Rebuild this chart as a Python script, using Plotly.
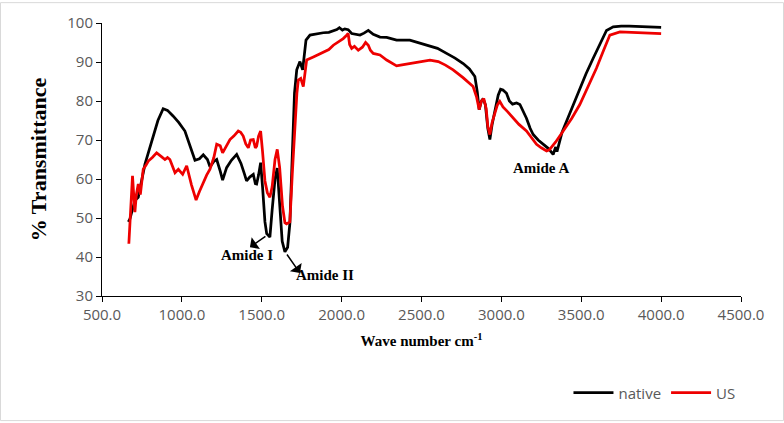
import plotly.graph_objects as go

# FTIR spectra
wn_native = [
    665, 675, 706, 727, 769, 811, 850, 883, 910, 946, 980, 1019, 1050, 1082, 1110,
    1134, 1160, 1176, 1200, 1218, 1240, 1255, 1280, 1310, 1343, 1370, 1390, 1405,
    1425, 1447, 1460, 1468, 1480, 1493, 1505, 1520, 1531, 1551, 1565, 1583, 1597,
    1610, 1628, 1645, 1662, 1676, 1690, 1705, 1719, 1739, 1756, 1777, 1802, 1850,
    1885, 1920, 1948, 1970, 1986, 2005, 2020, 2041, 2063, 2090, 2115, 2140, 2167,
    2198, 2240, 2282, 2344, 2427, 2511, 2600, 2657, 2710, 2761, 2800, 2834, 2849,
    2861, 2875, 2886, 2900, 2915, 2928, 2942, 2960, 2980, 2995, 3010, 3032, 3050,
    3070, 3095, 3116, 3135, 3157, 3180, 3199, 3230, 3262, 3295, 3324, 3340, 3348,
    3380, 3408, 3450, 3491, 3530, 3574, 3620, 3658, 3700, 3750, 3800, 3850, 3900,
    3950, 4000,
]
t_native = [
    49.0, 49.8, 54.5, 55.3, 63.8, 69.7, 75.0, 78.0, 77.6, 76.1, 74.5, 72.3, 68.5,
    64.8, 65.2, 66.2, 65.0, 63.1, 64.5, 65.0, 62.0, 59.7, 62.9, 64.8, 66.3, 64.0,
    61.5, 59.5, 60.5, 61.2, 58.8, 58.7, 61.0, 64.2, 58.0, 49.0, 46.0, 45.1, 52.0,
    60.0, 62.8, 55.0, 44.0, 41.3, 42.5, 48.6, 65.0, 82.0, 88.0, 90.1, 88.0, 95.6,
    96.9, 97.3, 97.5, 97.6, 98.0, 98.3, 98.8, 98.2, 98.5, 98.3, 97.3, 97.0, 96.9,
    97.4, 98.1, 97.1, 96.4, 96.3, 95.6, 95.6, 94.5, 93.5, 92.2, 91.0, 89.6, 88.2,
    86.3, 82.4, 77.8, 80.0, 80.6, 79.0, 73.0, 70.1, 74.0, 77.4, 81.5, 83.0, 82.8,
    82.0, 80.0, 79.2, 79.5, 79.1, 77.5, 75.6, 73.0, 71.4, 70.0, 69.0, 67.8, 66.3,
    68.2, 67.0, 72.0, 74.8, 79.0, 83.3, 87.0, 90.9, 94.8, 98.1, 99.0, 99.2, 99.2,
    99.1, 99.0, 99.0, 98.9,
]

wn_us = [
    668, 680, 691, 700, 706, 715, 727, 740, 758, 775, 790, 815, 842, 870, 894,
    910, 925, 957, 978, 1005, 1030, 1060, 1089, 1110, 1134, 1155, 1176, 1200, 1218,
    1240, 1255, 1280, 1301, 1325, 1353, 1368, 1384, 1400, 1416, 1430, 1447, 1460,
    1468, 1480, 1493, 1505, 1520, 1535, 1551, 1565, 1583, 1597, 1612, 1630, 1645,
    1655, 1676, 1692, 1708, 1720, 1729, 1744, 1760, 1781, 1823, 1885, 1920, 1948,
    1970, 1990, 2010, 2030, 2041, 2050, 2063, 2080, 2104, 2130, 2150, 2167, 2180,
    2198, 2240, 2282, 2344, 2369, 2427, 2480, 2553, 2605, 2650, 2698, 2760, 2823,
    2845, 2861, 2875, 2890, 2905, 2915, 2928, 2942, 2960, 2975, 2990, 3010, 3040,
    3074, 3110, 3157, 3190, 3220, 3250, 3283, 3300, 3340, 3387, 3440, 3491, 3545,
    3595, 3640, 3679, 3742, 3800, 3900, 3950, 4000,
]
t_us = [
    43.4, 52.0, 60.8, 55.0, 51.5, 56.0, 58.7, 56.0, 62.5, 63.5, 64.6, 65.5,
    66.7, 65.8, 65.0, 65.5, 65.0, 61.6, 62.5, 61.2, 63.4, 58.5, 54.6, 56.8, 59.1,
    61.0, 62.5, 65.5, 68.9, 68.5, 66.7, 68.5, 70.1, 71.0, 72.3, 72.0, 71.0, 69.0,
    68.0, 70.0, 70.1, 68.0, 68.4, 71.0, 72.3, 67.0, 59.5, 56.5, 55.3, 58.0, 65.0,
    67.6, 63.0, 53.0, 48.8, 48.5, 49.0, 62.0, 74.0, 82.0, 85.4, 85.8, 83.7, 90.5,
    91.3, 92.6, 93.2, 94.3, 94.9, 95.6, 96.0, 96.8, 97.3, 94.5, 93.5, 94.0, 93.0,
    93.8, 95.0, 94.3, 93.0, 92.2, 91.8, 90.5, 89.0, 89.2, 89.6, 90.0, 90.5, 90.1,
    89.2, 88.0, 86.0, 83.7, 81.0, 77.8, 80.0, 80.6, 78.0, 73.5, 71.4, 74.5, 76.9,
    79.0, 79.9, 78.5, 77.2, 75.6, 74.0, 72.3, 70.5, 68.9, 68.0, 67.2, 67.5, 69.5,
    72.3, 75.5, 79.1, 83.7, 88.4, 93.0, 96.9, 97.7, 97.6, 97.5, 97.4, 97.3,
]

serif = "Liberation Serif"
sans = "Open Sans"
grey = "#595959"

fig = go.Figure()
fig.add_trace(go.Scatter(x=wn_native, y=t_native, mode="lines", name="native",
                         line=dict(color="black", width=2.75)))
fig.add_trace(go.Scatter(x=wn_us, y=t_us, mode="lines", name="US",
                         line=dict(color="#ee0000", width=2.75)))

# Band labels and arrows (arrow tip at x/y, tail offset by ax/ay pixels)
label_font = dict(family=serif, size=15, color="black")
fig.add_annotation(x=1426, y=42.5, ax=17, ay=-12, text="", showarrow=True,
                   arrowhead=1, arrowsize=1.6, arrowwidth=1.5, arrowcolor="black")
fig.add_annotation(x=1739, y=35.9, ax=-14, ay=-20, text="", showarrow=True,
                   arrowhead=1, arrowsize=1.6, arrowwidth=1.5, arrowcolor="black")
fig.add_annotation(x=1407, y=40.5, text="<b>Amide I</b>", showarrow=False, font=label_font)
fig.add_annotation(x=1896, y=35.4, text="<b>Amide II</b>", showarrow=False, font=label_font)
fig.add_annotation(x=3247, y=62.8, text="<b>Amide A</b>", showarrow=False, font=label_font)

# Light chart-area frame around the whole picture
fig.add_shape(type="rect", xref="paper", yref="paper",
              x0=-101.5 / 639, x1=681.5 / 639, y0=-125.5 / 275, y1=295.5 / 275,
              line=dict(color="#d9d9d9", width=1))

fig.update_xaxes(
    range=[500, 4500], dtick=500, tick0=500, tickformat=".1f",
    showgrid=False, zeroline=False, showline=True, linecolor="black", linewidth=1,
    ticks="outside", ticklen=5, tickcolor="black",
    tickfont=dict(family=sans, size=15, color=grey),
    title=dict(text="<b>Wave number cm<sup>-1</sup></b>", standoff=12,
               font=dict(family=serif, size=15, color="black")),
)
fig.update_yaxes(
    range=[30, 100], dtick=10,
    showgrid=False, zeroline=False, showline=True, linecolor="black", linewidth=1,
    ticks="outside", ticklen=5, tickcolor="black",
    tickfont=dict(family=sans, size=15, color=grey),
    title=dict(text="<b>% Transmittance</b>", standoff=14,
               font=dict(family=serif, size=22, color="black")),
)
fig.update_layout(
    width=784, height=423,
    margin=dict(l=102, r=43, t=21, b=127),
    plot_bgcolor="white", paper_bgcolor="white",
    legend=dict(orientation="h", x=0.73, y=-0.355, xanchor="left", yanchor="middle",
                font=dict(family=sans, size=15, color=grey), itemwidth=40),
)

fig.write_html("out.html", config={"displayModeBar": False},
               post_script="document.body.style.margin='0';")
